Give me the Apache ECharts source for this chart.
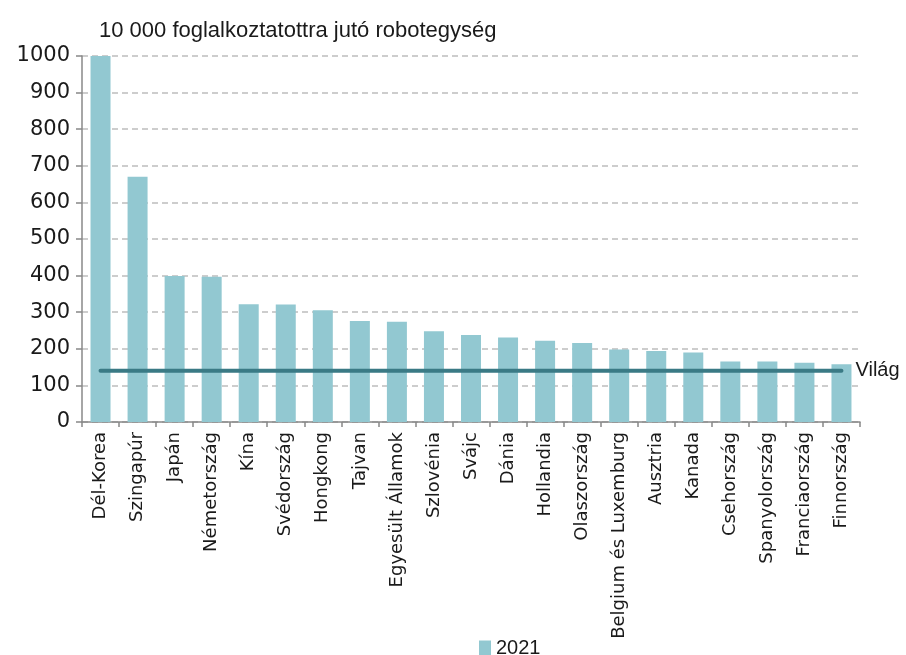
<!DOCTYPE html>
<html>
<head>
<meta charset="utf-8">
<script src="https://cdn.jsdelivr.net/npm/echarts@6/dist/echarts.min.js"></script>
<style>
    html, body { margin: 0; padding: 0; background: #fff; }
    #chart { width: 906px; height: 655px; }
</style>
</head>
<body>
<div id="chart"></div>
<script>
var countries = ['Dél-Korea', 'Szingapúr', 'Japán', 'Németország', 'Kína', 'Svédország', 'Hongkong', 'Tajvan', 'Egyesült Államok', 'Szlovénia', 'Svájc', 'Dánia', 'Hollandia', 'Olaszország', 'Belgium és Luxemburg', 'Ausztria', 'Kanada', 'Csehország', 'Spanyolország', 'Franciaország', 'Finnország'];
var robots2021 = [1000, 670, 399, 397, 322, 321, 305, 276, 274, 248, 238, 231, 222, 216, 198, 194, 190, 165, 165, 162, 158];
var worldValue = 140;
var worldLine = countries.map(function() { return worldValue; });

var myChart = echarts.init(document.getElementById('chart'));
var font = 'Liberation Sans';
var option = {
    animation: false,
    textStyle: { fontFamily: font },
    title: {
        text: '10 000 foglalkoztatottra jutó robotegység',
        left: 94,
        top: 15,
        textStyle: { fontFamily: font, fontSize: 22, fontWeight: 'normal', color: '#1a1a1a' }
    },
    legend: {
        data: [{ name: '2021', icon: 'rect' }],
        left: 474,
        top: 633,
        itemWidth: 12,
        itemHeight: 15,
        itemGap: 4,
        textStyle: { fontFamily: font, fontSize: 20, color: '#1a1a1a' }
    },
    grid: { left: 82, right: 46, top: 56, bottom: 233 },
    xAxis: {
        type: 'category',
        data: countries,
        axisLine: { lineStyle: { color: '#888', width: 1.5 } },
        axisTick: { show: true, length: 5, lineStyle: { color: '#888', width: 1.5 } },
        axisLabel: {
            interval: 0,
            rotate: 90,
            margin: 10,
            fontFamily: 'DejaVu Sans',
            fontSize: 18,
            color: '#1a1a1a'
        }
    },
    yAxis: {
        type: 'value',
        min: 0,
        max: 1000,
        interval: 100,
        axisLine: { show: true, lineStyle: { color: '#888', width: 1.5 } },
        axisTick: { show: true, length: 6, lineStyle: { color: '#888', width: 1.5 } },
        axisLabel: {
            fontFamily: 'DejaVu Sans',
            fontSize: 21,
            color: '#1a1a1a',
            margin: 12,
            formatter: function(v) { return String(v); }
        },
        splitLine: { lineStyle: { color: '#bdbdbd', type: [6, 4], width: 1.5 } }
    },
    series: [{
        name: '2021',
        type: 'bar',
        barWidth: 20,
        itemStyle: { color: '#92c8d1' },
        data: robots2021
    }, {
        name: 'Világ',
        type: 'line',
        symbol: 'none',
        lineStyle: { color: '#3a7a85', width: 4, cap: 'round' },
        endLabel: {
            show: true,
            formatter: 'Világ',
            distance: 14,
            fontFamily: font,
            fontSize: 20,
            color: '#1a1a1a'
        },
        data: worldLine
    }]
};
myChart.setOption(option);
</script>
</body>
</html>
